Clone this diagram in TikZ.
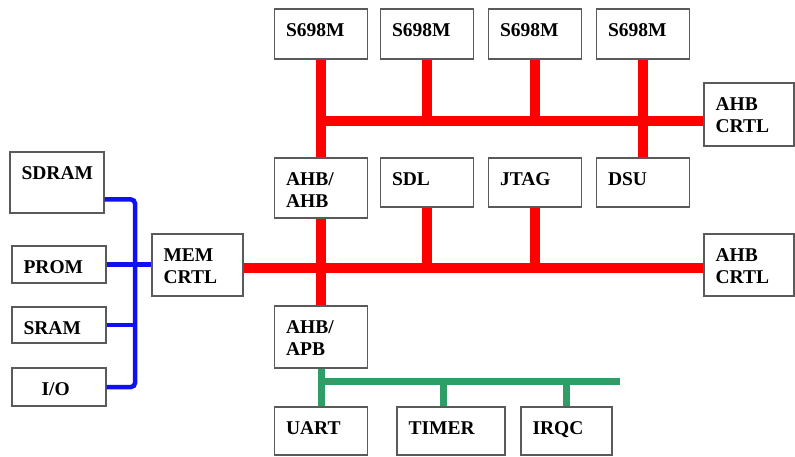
\documentclass[tikz,border=0pt]{standalone}
\usepackage{fontspec}
\setmainfont{Liberation Serif}
\usetikzlibrary{positioning,calc}
\definecolor{busred}{HTML}{FF0000}
\definecolor{busblue}{HTML}{1010F0}
\definecolor{busgreen}{HTML}{2E9E66}
\definecolor{edge}{HTML}{5A5A5A}

\begin{document}
\begin{tikzpicture}[x=1pt, y=-1pt,
          blk/.style={draw=edge, line width=1.3pt, fill=white, minimum width=93pt, minimum height=50pt, inner sep=0pt},
          txt/.style={anchor=north west, inner sep=0pt, xshift=12pt, yshift=-15pt, align=left, font=\fontsize{19.5}{22}\selectfont\bfseries},
          lbl/.style={label={[txt]north west:#1}},
          rbus/.style={line width=10pt, color=busred},
          bbus/.style={line width=4.5pt, color=busblue},
          gbus/.style={line width=7pt, color=busgreen}]
        \useasboundingbox (0,0) rectangle (795,457);
        % processors on top
        \node[blk, lbl=S698M] (s1) at (321,34) {};
        \node[blk, lbl=S698M] (s2) at (427,34) {};
        \node[blk, lbl=S698M] (s3) at (535,34) {};
        \node[blk, lbl=S698M] (s4) at (643,34) {};
        \node[blk, minimum width=90pt, minimum height=63pt, lbl={AHB\\CRTL}] (ctrl1) at (749,114.5) {};
        % second row
        \node[blk, minimum height=60pt, lbl={AHB/\\AHB}] (ahbahb) at (321,188) {};
        \node[blk, minimum height=49pt, lbl=SDL] (sdl) at (427,182.5) {};
        \node[blk, minimum height=49pt, lbl=JTAG] (jtag) at (535,182.5) {};
        \node[blk, minimum height=49pt, lbl=DSU] (dsu) at (643,182.5) {};
        \node[blk, minimum width=90pt, minimum height=62pt, lbl={AHB\\CRTL}] (ctrl2) at (749,265) {};
        \node[blk, minimum width=91pt, minimum height=62pt, lbl={MEM\\CRTL}] (mem) at (197.5,265) {};
        % memories
        \node[blk, minimum width=94pt, minimum height=61pt, lbl=SDRAM] (sdram) at (57,182.5) {};
        \node[blk, minimum width=94pt, minimum height=37pt, lbl=PROM] (prom) at (59,264.5) {};
        \node[blk, minimum width=94pt, minimum height=36pt, lbl=SRAM] (sram) at (59,325) {};
        \node[blk, minimum width=94pt, minimum height=38pt, label={[txt,xshift=18pt]north west:I/O}] (io) at (59,387) {};
        % peripherals
        \node[blk, minimum height=62pt, lbl={AHB/\\APB}] (ahbapb) at (321,337) {};
        \node[blk, minimum height=48pt, lbl=UART] (uart) at (321,431) {};
        \node[blk, minimum width=108pt, minimum height=48pt, lbl=TIMER] (timer) at (451,431) {};
        \node[blk, minimum width=91pt, minimum height=48pt, lbl=IRQC] (irqc) at (566.5,431) {};

        \coordinate (tb) at (0,121);
        \coordinate (mb) at (0,268);
        \coordinate (bb) at (135,0);
        \coordinate (gend) at (620,381);
        \coordinate (tdrop) at ([xshift=-8pt]timer.north);

        % AHB buses
        \draw[rbus] (s1.south) -- (ahbahb.north);
        \draw[rbus] (s2.south) -- (s2.south |- tb);
        \draw[rbus] (s3.south) -- (s3.south |- tb);
        \draw[rbus] (s4.south) -- (dsu.north);
        \draw[rbus] (s1.south |- tb) -- (ctrl1.west |- tb);
        \draw[rbus] (ahbahb.south) -- (ahbapb.north);
        \draw[rbus] (mem.east |- mb) -- (ctrl2.west |- mb);
        \draw[rbus] (sdl.south) -- (sdl.south |- mb);
        \draw[rbus] (jtag.south) -- (jtag.south |- mb);
        % memory bus
        \draw[bbus, rounded corners=4pt] ([yshift=-17pt]sdram.east) -| (bb |- io.east) -- (io.east);
        \draw[bbus] (prom.east) -- (prom.east -| mem.west);
        \draw[bbus] (sram.east) -- (sram.east -| bb);
        % APB bus
        \draw[gbus] (ahbapb.south) -- (uart.north);
        \draw[gbus] (ahbapb.south |- gend) -- (gend);
        \draw[gbus] (tdrop) -- (tdrop |- gend);
        \draw[gbus] (irqc.north) -- (irqc.north |- gend);
      \end{tikzpicture}
\end{document}
